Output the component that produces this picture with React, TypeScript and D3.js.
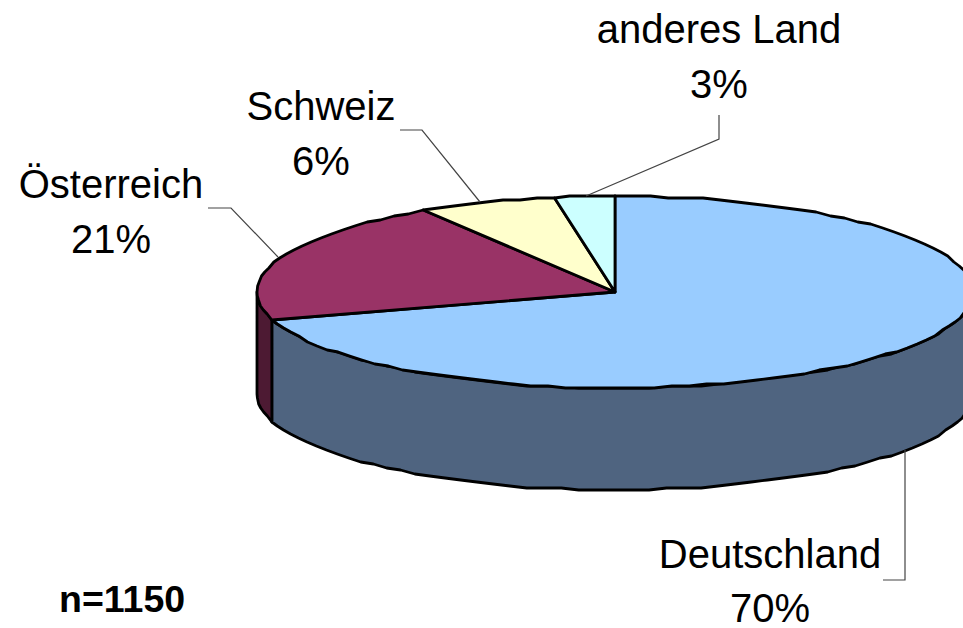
import React from "react";
import * as d3 from "d3";

const categories = ["Deutschland", "Österreich", "Schweiz", "anderes Land"];
const shares = [70.4, 20.6, 6.3, 2.7];
const shareLabels = ["70%", "21%", "6%", "3%"];
const topColors = ["#99CCFF", "#993366", "#FFFFCC", "#CCFFFF"];
const sideColors = ["#4F6480", "#4D1A33", "#808066", "#668080"];
const note = "n=1150";

const W = 963, H = 628;
const cx = 615, cy = 292, rx = 358, ry = 96, depth = 102;
const grid = 2;

const labelPos = [
  { x: 770, y1: 568, y2: 622 },
  { x: 111, y1: 198, y2: 253 },
  { x: 321, y1: 120, y2: 175 },
  { x: 719, y1: 43, y2: 98 },
];
const leaders = [
  [[905, 450], [905, 580], [883, 580]],
  [[208, 208], [231, 208], [278, 257]],
  [[400, 130], [422, 130], [480, 202]],
  [[719, 115], [719, 139], [586, 196]],
] as [number, number][][];

const pt = (a: number, dy = 0): [number, number] => [cx + rx * Math.sin(a), cy - ry * Math.cos(a) + dy];
const snap = (v: number) => Math.round(v / grid) * grid;

// The reference's outline is a coarse, slightly stepped ellipse: sample the rim and snap it to a grid.
function rim(a0: number, a1: number, dy = 0): [number, number][] {
  const n = Math.max(2, Math.ceil(Math.abs(a1 - a0) / 0.05));
  return d3.range(n + 1).map((k) => {
    const p = pt(a0 + ((a1 - a0) * k) / n, dy);
    return [p[0], snap(p[1])] as [number, number];
  });
}

export default function App() {
  const arcs = d3.pie<number>().sort(null).startAngle(0).endAngle(2 * Math.PI)(shares);
  const line = d3.line();
  const font = "'Liberation Sans', Arial, sans-serif";
  const sw = 2.8;
  return (
    <svg width={W} height={H} viewBox={`0 0 ${W} ${H}`} style={{ position: "absolute", left: 0, top: 0, background: "#fff" }}>
      {arcs.map((a, i) => {
        const s = Math.max(a.startAngle, Math.PI / 2);
        const e = Math.min(a.endAngle, (3 * Math.PI) / 2);
        if (e <= s) return null;
        const d = line([...rim(s, e), ...rim(e, s, depth)]) + "Z";
        return <path key={i} d={d} fill={sideColors[i]} stroke="#000" strokeWidth={sw} strokeLinejoin="round" />;
      })}
      {arcs.map((a, i) => {
        const d = line([[cx, cy], ...rim(a.startAngle, a.endAngle)]) + "Z";
        return <path key={i} d={d} fill={topColors[i]} stroke="#000" strokeWidth={sw} strokeLinejoin="round" />;
      })}
      {leaders.map((l, i) => (
        <path key={i} d={line(l) || ""} fill="none" stroke="#444" strokeWidth={1.2} />
      ))}
      {categories.map((c, i) => (
        <g key={c} fontFamily={font} fontSize={40} fill="#000" textAnchor="middle">
          <text x={labelPos[i].x} y={labelPos[i].y1}>{c}</text>
          <text x={labelPos[i].x} y={labelPos[i].y2}>{shareLabels[i]}</text>
        </g>
      ))}
      <text x={59} y={612} fontFamily={font} fontSize={37.5} fontWeight="bold" fill="#000">{note}</text>
    </svg>
  );
}
